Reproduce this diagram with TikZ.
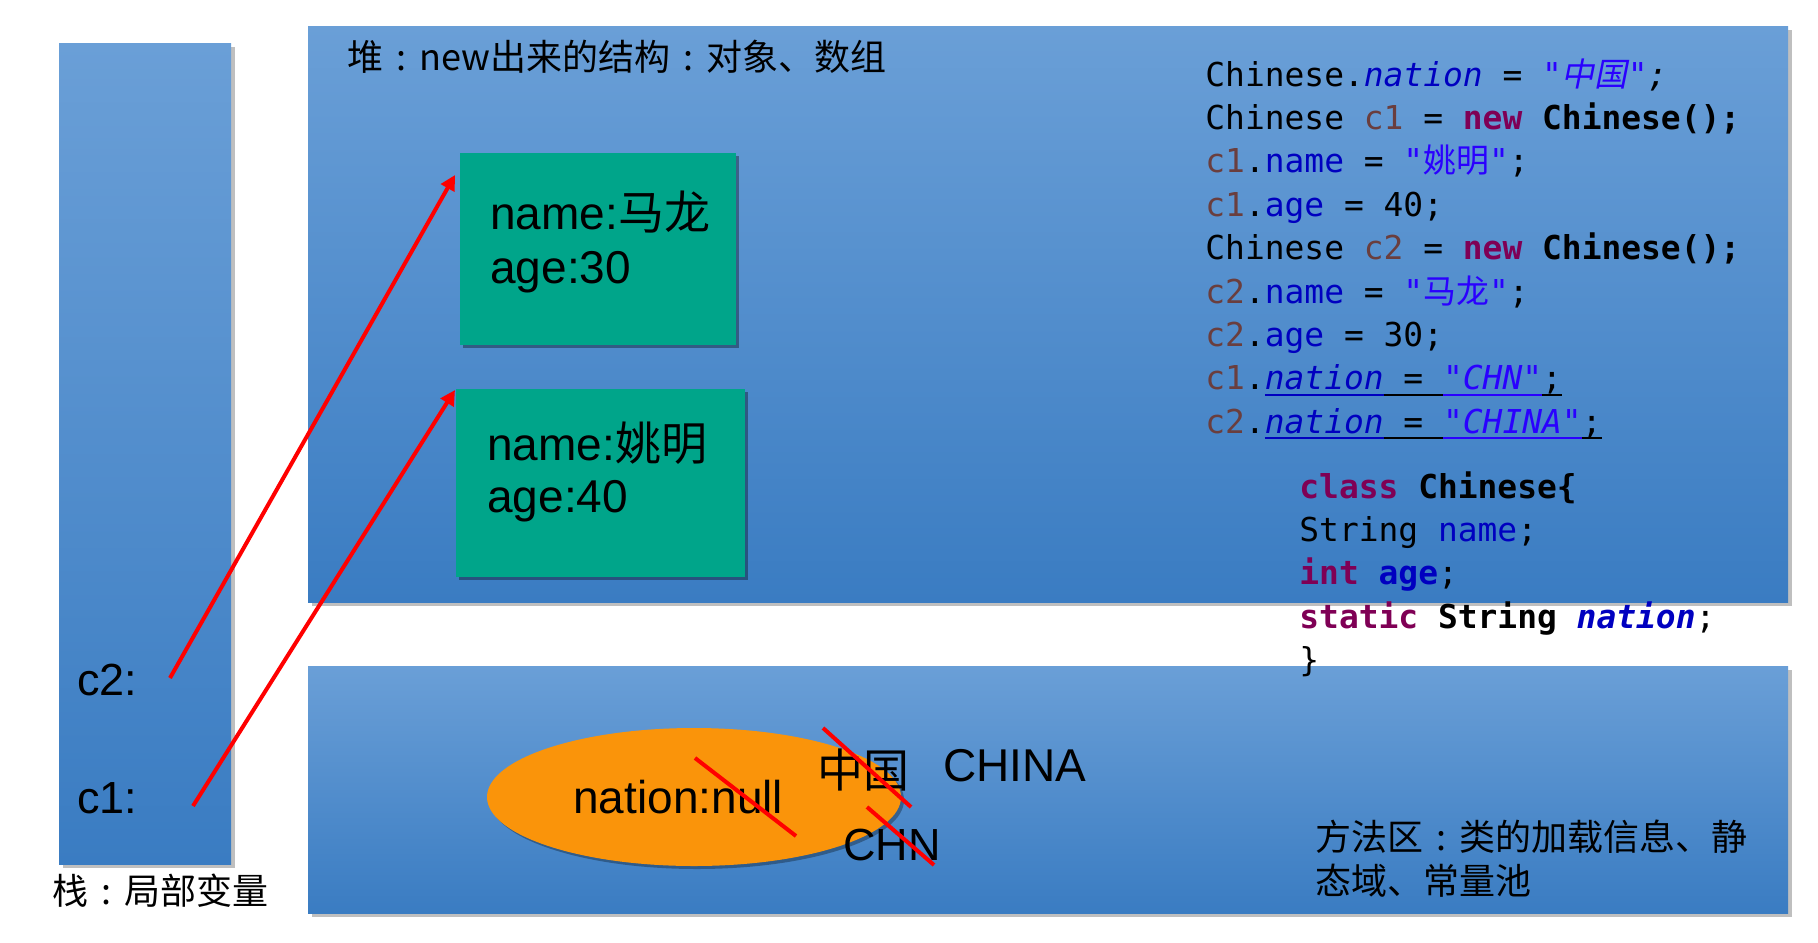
\documentclass[tikz,border=0pt]{standalone}
\usepackage{fontspec}
\setmainfont{Liberation Sans}
\setmonofont{DejaVu Sans Mono}
\newfontfamily\cjk{Noto Sans CJK SC}
\newfontfamily\cjkit[FakeSlant=0.2]{Noto Sans CJK SC}
\usetikzlibrary{arrows.meta,shadows,fit,shapes.geometric}
\definecolor{kwc}{HTML}{7F0055}
\definecolor{fldc}{HTML}{0000C0}
\definecolor{strc}{HTML}{2A00FF}
\definecolor{varc}{HTML}{6A3E3E}
\definecolor{blueA}{RGB}{106,159,215}
\definecolor{blueB}{RGB}{58,124,194}
\definecolor{boxgreen}{RGB}{0,165,138}
\definecolor{orangeN}{RGB}{250,148,10}
\newcommand\kw[1]{{\bfseries\color{kwc}#1}}
\newcommand\fld[1]{{\color{fldc}#1}}
\newcommand\lv[1]{{\color{varc}#1}}
\newcommand\ulx[1]{\setbox0\hbox{#1}\rlap{\rule[-3pt]{\wd0}{1pt}}\box0}
\newcommand\cc{\makebox[1em][c]{:}}
\tikzset{
  area/.style={inner sep=0, draw=none, top color=blueA, bottom color=blueB,
    drop shadow={shadow xshift=2pt, shadow yshift=-2pt, opacity=0.25, fill=black}},
  objbox/.style={inner sep=0, fill=boxgreen,
    drop shadow={shadow xshift=1.5pt, shadow yshift=-1.5pt, opacity=0.35, fill=black}},
  big/.style={inner sep=0, anchor=base west, font=\fontsize{23pt}{28pt}\selectfont},
  lbl/.style={inner sep=0, anchor=west, font=\cjk\fontsize{18pt}{22pt}\selectfont},
  code/.style={inner sep=0, anchor=base west, font=\ttfamily\fontsize{16.45pt}{20pt}\selectfont},
  ptr/.style={red, line width=2pt, -{Triangle[length=7.5pt,width=7.5pt]}},
  strike/.style={red, line width=2pt},
}
\begin{document}
\begin{tikzpicture}[x=0.5pt,y=-0.5pt]
\useasboundingbox (0,0) rectangle (1818,942);
% areas
\node[area, fit={(59,43)(231,864)}] (stack) {};
\node[area, fit={(308,26)(1788,602)}] (heap) {};
\node[area, fit={(308,666)(1788,913)}] (method) {};
% labels
\node[lbl] (stacklbl) at (52,891) {栈\cc 局部变量};
\node[lbl, font=\cjk\fontsize{18pt}{22pt}\selectfont] (heaplbl) at (347,57) {堆\cc new出来的结构\cc 对象、数组};
\node[lbl] (ml1) at (1315,837) {方法区\cc 类的加载信息、静};
\node[lbl] (ml2) at (1315,881) {态域、常量池};
% objects
\node[objbox, fit={(460,153)(736,345)}] (box1) {};
\node[objbox, fit={(456,389)(745,577)}] (box2) {};
\node[big] (b1n) at (490,229) {name:{\cjk 马龙}};
\node[big] (b1a) at (490,283) {age:30};
\node[big] (b2n) at (487,460) {name:{\cjk 姚明}};
\node[big] (b2a) at (487,512) {age:40};
% stack vars
\node[big, font=\fontsize{22.5pt}{28pt}\selectfont] (c2) at (77,695) {c2:};
\node[big, font=\fontsize{22.5pt}{28pt}\selectfont] (c1) at (77,813) {c1:};
% method area
\node[ellipse, fill=orangeN, inner sep=0, minimum width=207pt, minimum height=69pt,
  drop shadow={shadow xshift=1.5pt, shadow yshift=-1.5pt, opacity=0.3, fill=black}] (ell) at (694,797) {};
\node[big] (nnull) at (573,813) {nation:null};
\node[big] (zg) at (817,787) {\cjk 中国};
\node[big] (china) at (943,781) {CHINA};
\node[big, font=\fontsize{22.5pt}{28pt}\selectfont] (chn) at (843,860) {CHN};
% code
\node[code] (k1) at (1205,86) {Chinese.\fld{\itshape nation} = {\color{strc}\itshape "{\cjkit 中国}"}{\itshape ;}};
\node[code] (k2) at (1205,129.4) {Chinese \lv{c1} = \kw{new} {\bfseries Chinese();}};
\node[code] (k3) at (1205,172.8) {\lv{c1}.\fld{name} = {\color{strc}"{\cjk 姚明}"};};
\node[code] (k4) at (1205,216.2) {\lv{c1}.\fld{age} = 40;};
\node[code] (k5) at (1205,259.6) {Chinese \lv{c2} = \kw{new} {\bfseries Chinese();}};
\node[code] (k6) at (1205,303) {\lv{c2}.\fld{name} = {\color{strc}"{\cjk 马龙}"};};
\node[code] (k7) at (1205,346.4) {\lv{c2}.\fld{age} = 30;};
\node[code] (k8) at (1205,389.8) {\lv{c1}.{\color{fldc}\itshape\ulx{nation}}\ulx{ = }{\color{strc}\itshape\ulx{"CHN"}}\ulx{;}};
\node[code] (k9) at (1205,433.2) {\lv{c2}.{\color{fldc}\itshape\ulx{nation}}\ulx{ = }{\color{strc}\itshape\ulx{"CHINA"}}\ulx{;}};
\node[code] (cl1) at (1299,498) {\kw{class} {\bfseries Chinese\{}};
\node[code] (cl2) at (1299,541.4) {String \fld{name};};
\node[code] (cl3) at (1299,584.8) {\kw{int} {\color{fldc}\bfseries age};};
\node[code] (cl4) at (1299,628.2) {\kw{static} {\bfseries String} {\color{fldc}\bfseries\itshape nation};};
\node[code] (cl5) at (1299,671.6) {\}};
% strikes
\coordinate (s1a) at (695,758); \coordinate (s1b) at (796,836);
\coordinate (s2a) at (823,728); \coordinate (s2b) at (911,807);
\coordinate (s3a) at (867,807); \coordinate (s3b) at (934,865);
\draw[strike] (s1a) -- (s1b);
\draw[strike] (s2a) -- (s2b);
\draw[strike] (s3a) -- (s3b);
% pointers
\coordinate (c2s) at (170,678);
\coordinate (c1s) at (193,806);
\coordinate (t1) at (455,175);
\coordinate (t2) at (455,390);
\draw[ptr] (c2s) -- (t1);
\draw[ptr] (c1s) -- (t2);
\end{tikzpicture}
\end{document}
